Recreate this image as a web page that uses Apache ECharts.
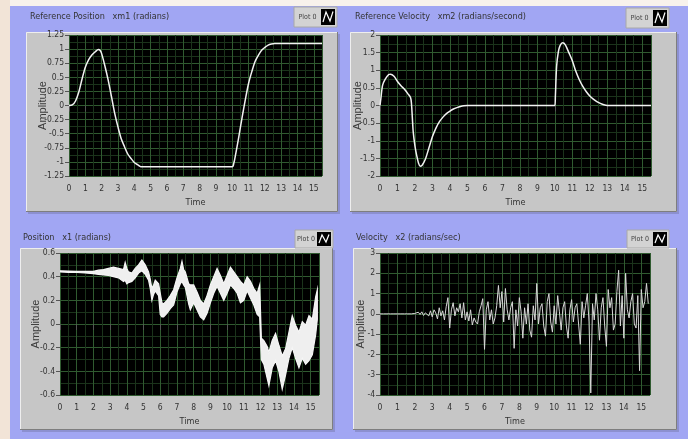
<!DOCTYPE html>
<html><head><meta charset="utf-8">
<script src="https://cdn.jsdelivr.net/npm/echarts@6/dist/echarts.min.js"></script>
<style>html,body{margin:0;padding:0;background:#a1a6f3;}#c{width:688px;height:439px;}</style>
</head><body><div id="c"></div>
<script>
// ---------- DATA ----------
const titles = ['Reference Position   xm1 (radians)', 'Reference Velocity   xm2 (radians/second)', 'Position   x1 (radians)', 'Velocity   x2 (radians/sec)'];
const legendLabel = 'Plot 0';
const xName = 'Time';
const yName = 'Amplitude';
const timeMax = 15.5;
const timeTicks = [0, 1, 2, 3, 4, 5, 6, 7, 8, 9, 10, 11, 12, 13, 14, 15, 15.5];
const yRanges = [[-1.25, 1.25, 0.25], [-2, 2, 0.5], [-0.6, 0.6, 0.2], [-4, 3, 1]];

const refPosT = [0, 0.2, 0.4, 0.6, 0.8, 1.0, 1.2, 1.4, 1.6, 1.8, 1.9, 2.0, 2.2, 2.4, 2.6, 2.8, 3.0, 3.2, 3.4, 3.6, 3.8, 4.0, 4.2, 4.4, 10.0, 10.1, 10.2, 10.4, 10.6, 10.8, 11.0, 11.2, 11.4, 11.6, 11.8, 12.0, 12.2, 12.4, 12.6, 12.8, 15.5];
const refPosY = [0, 0.01, 0.08, 0.24, 0.47, 0.68, 0.81, 0.895, 0.95, 0.995, 0.98, 0.92, 0.7, 0.45, 0.16, -0.14, -0.38, -0.59, -0.73, -0.86, -0.94, -1.01, -1.05, -1.085, -1.085, -1.02, -0.88, -0.56, -0.22, 0.1, 0.39, 0.6, 0.78, 0.89, 0.98, 1.03, 1.07, 1.09, 1.1, 1.1, 1.1];

const refVelT = [0, 0.05, 0.15, 0.3, 0.5, 0.6, 0.8, 1.0, 1.2, 1.4, 1.6, 1.75, 1.8, 1.85, 1.9, 2.0, 2.1, 2.2, 2.3, 2.4, 2.5, 2.6, 2.8, 3.0, 3.2, 3.4, 3.6, 3.8, 4.0, 4.2, 4.4, 4.6, 4.8, 5.0, 10.0, 10.03, 10.1, 10.2, 10.3, 10.45, 10.6, 10.8, 11.0, 11.2, 11.4, 11.6, 11.8, 12.0, 12.2, 12.4, 12.6, 12.8, 13.0, 15.5];
const refVelY = [0, 0.2, 0.58, 0.75, 0.88, 0.89, 0.83, 0.68, 0.56, 0.46, 0.33, 0.22, 0.05, -0.35, -0.75, -1.15, -1.42, -1.63, -1.72, -1.7, -1.62, -1.52, -1.2, -0.88, -0.64, -0.46, -0.33, -0.23, -0.16, -0.1, -0.06, -0.03, -0.01, 0, 0, 0.25, 1.1, 1.52, 1.7, 1.78, 1.72, 1.5, 1.27, 0.97, 0.73, 0.54, 0.39, 0.27, 0.18, 0.11, 0.06, 0.02, 0, 0];

const x1T = [0, 0.5, 1.0, 1.5, 2.0, 2.3, 2.6, 2.9, 3.2, 3.5, 3.8, 3.9, 4.0, 4.1, 4.3, 4.5, 4.7, 4.9, 5.1, 5.3, 5.4, 5.5, 5.6, 5.7, 5.9, 6.0, 6.1, 6.2, 6.4, 6.6, 6.8, 7.0, 7.2, 7.3, 7.4, 7.5, 7.7, 7.8, 8.0, 8.2, 8.4, 8.6, 8.8, 9.0, 9.2, 9.4, 9.6, 9.8, 10.0, 10.2, 10.4, 10.6, 10.8, 11.0, 11.2, 11.4, 11.6, 11.8, 11.95, 12.05, 12.2, 12.4, 12.5, 12.7, 12.9, 13.1, 13.3, 13.5, 13.7, 13.9, 14.1, 14.3, 14.5, 14.7, 14.9, 15.1, 15.3, 15.4];
const x1High = [0.45, 0.447, 0.445, 0.445, 0.445, 0.455, 0.46, 0.47, 0.48, 0.47, 0.46, 0.52, 0.47, 0.44, 0.43, 0.47, 0.5, 0.54, 0.5, 0.44, 0.38, 0.3, 0.33, 0.37, 0.34, 0.26, 0.18, 0.17, 0.2, 0.24, 0.29, 0.39, 0.47, 0.53, 0.46, 0.44, 0.34, 0.33, 0.33, 0.27, 0.2, 0.17, 0.24, 0.33, 0.4, 0.47, 0.41, 0.34, 0.41, 0.48, 0.44, 0.4, 0.36, 0.33, 0.4, 0.36, 0.3, 0.26, 0.33, -0.12, -0.14, -0.19, -0.24, -0.14, -0.08, -0.18, -0.27, -0.21, -0.07, 0.07, -0.01, -0.07, 0.02, -0.01, 0.07, 0.04, 0.23, 0.29];
const x1Low = [0.44, 0.437, 0.435, 0.432, 0.425, 0.42, 0.415, 0.41, 0.4, 0.39, 0.36, 0.37, 0.34, 0.35, 0.36, 0.39, 0.43, 0.45, 0.42, 0.37, 0.3, 0.2, 0.25, 0.28, 0.24, 0.08, 0.06, 0.06, 0.09, 0.13, 0.16, 0.27, 0.34, 0.36, 0.33, 0.31, 0.17, 0.12, 0.18, 0.12, 0.06, 0.035, 0.09, 0.18, 0.26, 0.32, 0.26, 0.2, 0.26, 0.33, 0.3, 0.26, 0.18, 0.2, 0.28, 0.22, 0.16, 0.08, 0.06, -0.3, -0.34, -0.46, -0.52, -0.37, -0.31, -0.4, -0.55, -0.43, -0.29, -0.2, -0.29, -0.37, -0.29, -0.34, -0.31, -0.26, -0.09, 0.04];

const x2Step = 0.1;
const x2Y = [
  0, 0, 0, 0, 0, 0, 0, 0, 0, 0, 0, 0, 0, 0, 0, 0, 0, 0, 0, 0.01,
  0.02, -0.05, 0.08, -0.03, 0.1, -0.08, 0.05, 0.12, -0.1, 0.15,
  -0.15, 0.2, 0.05, -0.25, 0.3, -0.1, 0.15, -0.3, 0.35, 0.8,
  -0.7, 0.2, 0.55, -0.1, 0.3, 0.1, 0.5, -0.2, 0.55, -0.3,
  0.1, -0.35, 0.2, -0.55, -0.2, -0.4, -0.5, 0.1, 0.4, 0.75,
  -1.75, 0.2, 0.6, -0.3, 0.2, -0.5, -0.2, 0.4, 1.4, 0.3,
  1.1, -0.4, 1.25, 0.2, -0.3, 0.3, 0.6, -1.7, 0.2, -0.6,
  0.8, 0.1, -1.2, 0.3, -0.5, 0.5, -0.8, -1.15, 0.4, -0.3,
  1.5, -0.5, 0.3, 0.5, -0.6, -1.1, 0.6, 1.0, -0.4, -0.9,
  0.4, -0.5, 0.9, 0.1, -0.8, 0.3, 0.6, -0.6, -1.2, 0.2,
  0.7, -0.4, 0.3, 0.5, -0.5, -1.5, 0.6, -0.2, 0.4, 1.0,
  -0.4, -3.9, 0.5, -0.3, 1.0, 0.2, -1.3, 0.3, 0.8, -0.6,
  -1.6, 1.2, 0.3, 0.8, -0.8, -0.5, 1.1, 2.15, -0.6, 0.9,
  -1.2, 2.0, 0.2, -0.2, 0.6, 1.0, -0.5, -0.7, 0.9, -2.8,
  1.2, 0.3, 0.6, 1.5, 0.5
];

// ---------- LAYOUT ----------
const FONT = "'Liberation Sans Narrow','DejaVu Sans Condensed','Liberation Sans',Arial,sans-serif";
const grids = [
  {left: 69, top: 35, width: 253, height: 141},
  {left: 380, top: 35, width: 271, height: 141},
  {left: 60, top: 253, width: 259, height: 142},
  {left: 380, top: 253, width: 270, height: 142}
];
const frames = [[26, 32, 312, 180], [350, 32, 327, 180], [20, 248, 313, 182], [353, 248, 324, 182]];
const titlePos = [[30, 17], [355, 17], [23, 238], [356, 238]];
const legendBoxes = [[294, 7, 43, 20], [626, 8, 43, 20], [295, 230, 38, 18], [627, 230, 42, 18]];
const yNameGaps = [21, 17, 19, 14];

const chart = echarts.init(document.getElementById('c'), null, {renderer: 'canvas'});

const graphic = [];
graphic.push({type: 'rect', shape: {x: 0, y: 0, width: 688, height: 6}, style: {fill: '#f8f2ec'}, z: -10});
graphic.push({type: 'rect', shape: {x: 0, y: 0, width: 10, height: 439}, style: {fill: '#f2e4d7'}, z: -10});
frames.forEach(([x, y, w, h]) => {
  graphic.push({type: 'rect', shape: {x: x + 2, y: y + 2, width: w, height: h}, style: {fill: '#8c90d0'}, z: -6});
  graphic.push({type: 'rect', shape: {x, y, width: w, height: h}, style: {fill: '#c6c6c6'}, z: -5});
  graphic.push({type: 'polyline', shape: {points: [[x + 0.5, y + h], [x + 0.5, y + 0.5], [x + w, y + 0.5]]}, style: {stroke: '#eeeeee', lineWidth: 1, fill: null}, z: -4});
  graphic.push({type: 'polyline', shape: {points: [[x + w - 0.5, y], [x + w - 0.5, y + h - 0.5], [x, y + h - 0.5]]}, style: {stroke: '#7e7e7e', lineWidth: 1, fill: null}, z: -4});
});
titles.forEach((t, i) => {
  graphic.push({type: 'text', x: titlePos[i][0], y: titlePos[i][1], style: {text: t, font: '9px ' + FONT, fill: '#333', textVerticalAlign: 'middle'}, z: 5});
});
legendBoxes.forEach(([x, y, w, h]) => {
  graphic.push({type: 'rect', shape: {x, y, width: w, height: h}, style: {fill: '#d3d3d3', stroke: '#a8a8a8', lineWidth: 1}, z: 5});
  const ix = x + w - 16, iy = y + 2, iw = 14, ih = h - 4;
  graphic.push({type: 'text', x: x + (w - 16) / 2, y: y + h / 2, style: {text: legendLabel, font: '7px ' + FONT, fill: '#444', textAlign: 'center', textVerticalAlign: 'middle'}, z: 6});
  graphic.push({type: 'rect', shape: {x: ix, y: iy, width: iw, height: ih}, style: {fill: '#000'}, z: 6});
  graphic.push({type: 'polyline', shape: {points: [[ix + 2, iy + ih - 3], [ix + 5, iy + 3], [ix + 9, iy + ih - 4], [ix + iw - 2, iy + 2.5]]}, style: {stroke: '#fff', lineWidth: 1.2, fill: null}, z: 7});
});

const xAxes = grids.map((g, i) => ({
  type: 'value', gridIndex: i, min: 0, max: timeMax, interval: 1,
  name: xName, nameLocation: 'middle', nameGap: 22, nameMoveOverlap: false,
  nameTextStyle: {fontSize: 9, fontFamily: FONT, color: '#333'},
  axisLine: {show: false},
  axisTick: {show: true, length: 6, lineStyle: {color: '#555'}, customValues: timeTicks},
  axisLabel: {fontSize: 8.5, fontFamily: FONT, color: '#333', margin: 8, hideOverlap: false,
    customValues: timeTicks,
    formatter: v => String(Math.floor(v + 1e-9))},
  splitLine: {show: true, lineStyle: {color: '#305a30', width: 1}},
  minorTick: {show: false, splitNumber: 2},
  minorSplitLine: {show: true, lineStyle: {color: '#1b331b', width: 1}}
}));
const yAxes = grids.map((g, i) => ({
  type: 'value', gridIndex: i, min: yRanges[i][0], max: yRanges[i][1], interval: yRanges[i][2],
  name: yName, nameLocation: 'middle', nameRotate: 90, nameGap: yNameGaps[i], nameMoveOverlap: false,
  nameTextStyle: {fontSize: 11, fontFamily: 'Liberation Sans, Arial, sans-serif', color: '#3a3a3a'},
  axisLine: {show: false},
  axisTick: {show: true, length: 4, lineStyle: {color: '#555'}},
  axisLabel: {fontSize: 8.5, fontFamily: FONT, color: '#333', margin: 5, showMaxLabel: true, showMinLabel: true},
  splitLine: {show: true, lineStyle: {color: '#305a30', width: 1}},
  minorTick: {show: false, splitNumber: 2},
  minorSplitLine: {show: true, lineStyle: {color: '#1b331b', width: 1}}
}));

const x2Data = x2Y.map((v, i) => [Math.round(i * x2Step * 100) / 100, v]);

const series = [
  {type: 'line', xAxisIndex: 0, yAxisIndex: 0, data: refPosT.map((t, i) => [t, refPosY[i]]), showSymbol: false, smooth: 0.3,
    lineStyle: {color: '#f2f2f2', width: 1.5}},
  {type: 'line', xAxisIndex: 1, yAxisIndex: 1, data: refVelT.map((t, i) => [t, refVelY[i]]), showSymbol: false, smooth: 0.3,
    lineStyle: {color: '#f2f2f2', width: 1.5}},
  {type: 'custom', xAxisIndex: 2, yAxisIndex: 2, data: [[x1T[0], x1Low[0]]], encode: {x: 0, y: 1}, clip: true,
    renderItem: function (params, api) {
      const pts = [];
      for (let i = 0; i < x1T.length; i++) pts.push(api.coord([x1T[i], x1High[i]]));
      for (let i = x1T.length - 1; i >= 0; i--) pts.push(api.coord([x1T[i], x1Low[i]]));
      return {type: 'polygon', shape: {points: pts}, style: {fill: '#efefef', stroke: '#f6f6f6', lineWidth: 1.2, lineJoin: 'miter'}};
    }},
  {type: 'line', xAxisIndex: 3, yAxisIndex: 3, data: x2Data, showSymbol: false,
    lineStyle: {color: '#d8d8d8', width: 1}}
];

chart.setOption({
  animation: false,
  backgroundColor: '#a1a6f3',
  graphic: graphic,
  grid: grids.map(g => Object.assign({show: true, backgroundColor: '#000', borderWidth: 0, containLabel: false}, g)),
  xAxis: xAxes,
  yAxis: yAxes,
  series: series
});
</script></body></html>
